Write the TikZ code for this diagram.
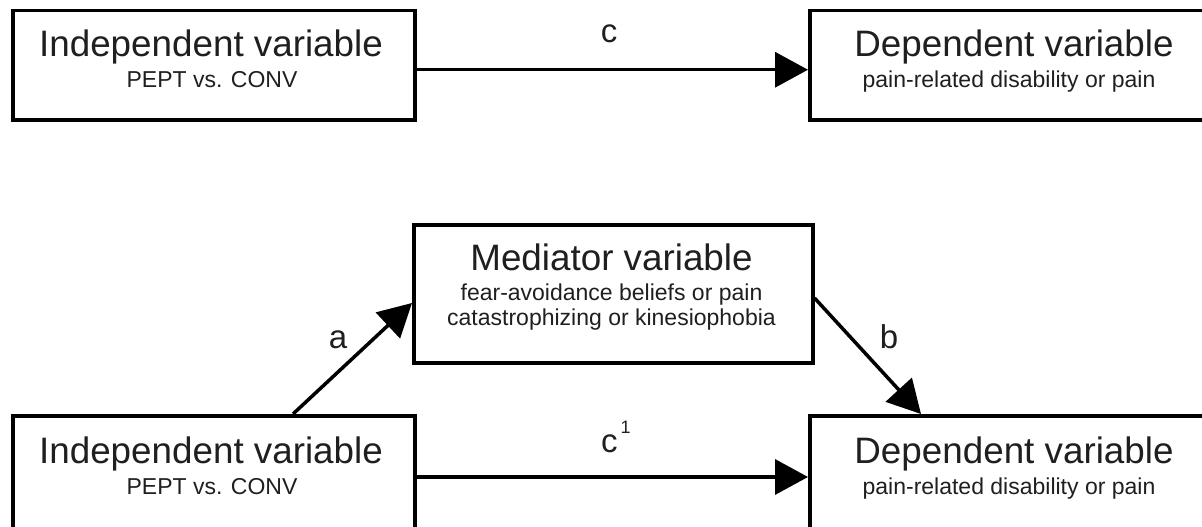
\documentclass[tikz,border=0pt]{standalone}
\usepackage{fontspec}
\setmainfont{Liberation Sans}
\usetikzlibrary{arrows.meta}
\begin{document}
\begin{tikzpicture}[x=1pt,y=-1pt,
  box/.style={draw, line width=3.5pt, minimum width=402pt, minimum height=109pt, inner sep=0pt, anchor=north west},
  lowbox/.style={box, minimum height=114.5pt},
  medbox/.style={draw, line width=3.5pt, minimum width=399pt, minimum height=138pt, inner sep=0pt, anchor=north west},
  title/.style={font=\fontsize{36.8}{36.8}\selectfont, inner sep=0pt, anchor=base, text=black!88},
  sub/.style={font=\fontsize{23}{23}\selectfont, inner sep=0pt, anchor=base, text=black!88},
  lab/.style={font=\fontsize{33}{33}\selectfont, inner sep=0pt, anchor=base, text=black!88},
  arr/.style={line width=3.5pt, -{Triangle[length=33pt,width=35pt]}}]
\useasboundingbox (0,0) rectangle (1202,527);
\clip (0,0) rectangle (1202,527);
% top row
\node[box] (tl) at (11,9) {};
\node[box] (tr) at (808,9) {};
\node[title] (tlT) at (211,57) {Independent variable};
\node[sub] (tlS) at (212,88) {PEPT vs. CONV};
\node[title] (trT) at (1014,57) {Dependent variable};
\node[sub] (trS) at (1009,88) {pain-related disability or pain};
\draw[arr] ([yshift=-4.5pt]tl.east) -- ([yshift=-4.5pt]tr.west);
\node[lab] (lc) at (609,43) {c};
% mediator
\node[medbox] (med) at (412,223) {};
\node[title] (medT) at (611.5,270) {Mediator variable};
\node[sub] (medS1) at (611.5,300) {fear-avoidance beliefs or pain};
\node[sub] (medS2) at (611.5,325) {catastrophizing or kinesiophobia};
% bottom row
\node[lowbox] (bl) at (11,414) {};
\node[lowbox] (br) at (808,414) {};
\node[title] (blT) at (211,463) {Independent variable};
\node[sub] (blS) at (212,494) {PEPT vs. CONV};
\node[title] (brT) at (1014,463) {Dependent variable};
\node[sub] (brS) at (1009,494) {pain-related disability or pain};
\draw[arr] ([yshift=-63pt]bl.north east) -- ([yshift=-63pt]br.north west);
\draw[arr] ([xshift=282pt]bl.north west) -- ([yshift=-80pt]med.north west);
\draw[arr] ([yshift=-75pt]med.north east) -- ([xshift=113pt]br.north west);
\node[lab, anchor=base west] (lc1) at (601,452) {c\hspace{3pt}\raisebox{19pt}{\fontsize{18}{18}\selectfont 1}};
\node[lab] (la) at (338,348) {a};
\node[lab] (lb) at (889,348) {b};
\end{tikzpicture}
\end{document}
